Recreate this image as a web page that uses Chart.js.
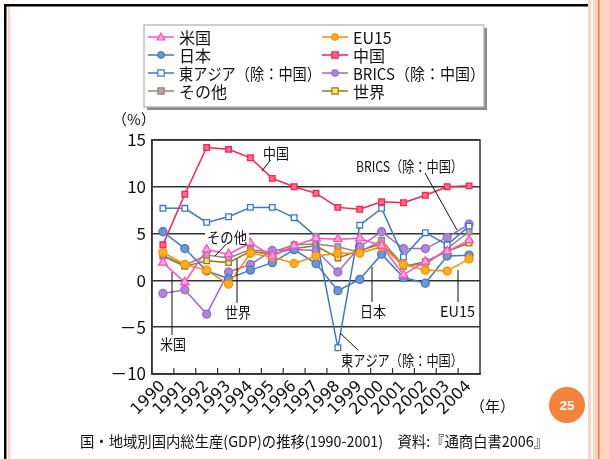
<!DOCTYPE html>
<html>
<head>
<meta charset="utf-8">
<script src="https://cdn.jsdelivr.net/npm/chart.js@4.4.1/dist/chart.umd.min.js"></script>
<style>
  html, body { margin: 0; padding: 0; background: #fff; }
  #wrap { width: 610px; height: 459px; position: relative; }
</style>
</head>
<body>
<div id="wrap"><canvas id="grafico" width="610" height="459"></canvas></div>
<script>
// anos e taxas de crescimento (%)
const anos = ['1990','1991','1992','1993','1994','1995','1996','1997','1998','1999','2000','2001','2002','2003','2004'];
const eua      = [1.9, -0.2, 3.3, 2.8, 4.0, 2.6, 3.7, 4.5, 4.4, 4.5, 3.7, 0.6, 2.0, 3.1, 4.3];
const eu15     = [3.0, 1.7, 1.1, -0.4, 2.9, 2.5, 1.8, 2.6, 2.9, 2.9, 3.6, 1.7, 1.1, 1.0, 2.3];
const japao    = [5.2, 3.4, 1.0, 0.2, 1.1, 1.9, 3.3, 1.8, -1.1, 0.1, 2.8, 0.3, -0.3, 2.6, 2.7];
const china    = [3.8, 9.2, 14.2, 14.0, 13.1, 10.9, 10.0, 9.3, 7.8, 7.6, 8.4, 8.3, 9.1, 10.0, 10.1];
const asiaLeste = [7.7, 7.7, 6.2, 6.8, 7.8, 7.8, 6.7, 4.7, -7.2, 5.9, 7.7, 2.5, 5.1, 3.8, 5.8];
const brics    = [-1.4, -1.0, -3.6, 0.9, 1.7, 3.2, 3.3, 3.2, 0.9, 3.6, 5.2, 3.4, 3.4, 4.6, 6.0];
const outros   = [2.7, 1.6, 2.7, 2.4, 3.3, 3.0, 3.8, 3.9, 3.6, 3.0, 4.3, 1.6, 1.7, 3.4, 5.2];
const mundo    = [2.6, 1.5, 2.1, 1.9, 3.1, 2.8, 3.4, 3.7, 2.4, 3.2, 3.9, 1.5, 2.0, 3.1, 4.0];

const yTicks = [-10, -5, 0, 5, 10, 15];

const FONTE = '"Noto Sans CJK JP", "Noto Sans", sans-serif';

function serie(nome, dados, cor, preenchimento, estilo) {
    return {
        label: nome,
        data: dados,
        borderColor: cor,
        backgroundColor: preenchimento,
        pointBorderColor: cor,
        pointBackgroundColor: preenchimento,
        pointStyle: estilo,
        pointRadius: estilo === 'triangle' ? 5 : 4,
        pointBorderWidth: 1.3,
        borderWidth: 1.5,
        tension: 0
    };
}

const datasets = [
    serie('米国', eua, '#ff4fc0', '#ffa8dc', 'triangle'),
    serie('EU15', eu15, '#ff8a00', '#ffb020', 'circle'),
    serie('日本', japao, '#3f78c4', '#6f95d4', 'circle'),
    serie('中国', china, '#ff1f4f', '#ff6f8a', 'rect'),
    serie('東アジア（除：中国）', asiaLeste, '#3a78c8', '#ffffff', 'rect'),
    serie('BRICS（除：中国）', brics, '#9a6ccc', '#a98ad6', 'circle'),
    serie('その他', outros, '#9a8080', '#b8a4a4', 'rect'),
    serie('世界', mundo, '#9a7a12', '#ffe27a', 'rect')
];

// moldura do slide, fundo e número da página
const moldura = {
    id: 'moldura',
    beforeDraw(chart) {
        const c = chart.ctx;
        c.save();
        c.fillStyle = '#fff';
        c.fillRect(0, 0, chart.width, chart.height);
        c.fillStyle = '#ffd3c4';
        c.fillRect(588, 0, 22, chart.height);
        c.fillStyle = '#fff';
        c.fillRect(591, 0, 2, chart.height);
        c.fillStyle = '#f47a3c';
        c.fillRect(598, 0, 1.5, chart.height);
        c.fillStyle = '#ffd3c4';
        c.fillRect(8, 6, 2, chart.height);
        c.fillStyle = '#000';
        c.fillRect(4, 4, 584, 2.5);
        c.fillRect(4, 4, 2.5, chart.height);
        c.restore();
    },
    afterDraw(chart) {
        const c = chart.ctx;
        c.save();
        c.fillStyle = '#f5823a';
        c.beginPath();
        c.arc(567, 405, 18, 0, Math.PI * 2);
        c.fill();
        c.fillStyle = '#fff';
        c.font = 'bold 13px "Liberation Sans", sans-serif';
        c.textAlign = 'center';
        c.textBaseline = 'middle';
        c.fillText('25', 567, 406);
        c.fillStyle = '#111';
        c.font = '15px ' + FONTE;
        c.textAlign = 'left';
        c.fillText('国・地域別国内総生産(GDP)の推移(1990-2001)　資料:『通商白書2006』', 80, 441, 468);
        c.fillText('（年）', 470, 406);
        c.fillText('（%）', 112, 119);
        c.restore();
    }
};

// caixa da área do gráfico e pequenos traços no eixo x
const caixa = {
    id: 'caixa',
    afterDraw(chart) {
        const a = chart.chartArea;
        const c = chart.ctx;
        const n = anos.length;
        c.save();
        c.strokeStyle = '#333';
        c.lineWidth = 1.5;
        c.strokeRect(a.left, a.top, a.right - a.left, a.bottom - a.top);
        c.lineWidth = 1.2;
        for (let i = 1; i < n; i++) {
            const x = a.left + i * (a.right - a.left) / n;
            c.beginPath();
            c.moveTo(x, a.bottom);
            c.lineTo(x, a.bottom - 6);
            c.stroke();
        }
        c.restore();
    }
};

// legenda em duas colunas com sombra
const legenda = {
    id: 'legenda',
    afterDraw(chart) {
        const c = chart.ctx;
        const bx = 144, by = 25, bw = 340, bh = 82;
        c.save();
        c.fillStyle = '#8a8a8a';
        c.fillRect(bx + 3, by + 3, bw, bh);
        c.fillStyle = '#fff';
        c.fillRect(bx, by, bw, bh);
        c.strokeStyle = '#b0b0b0';
        c.lineWidth = 1.2;
        c.strokeRect(bx, by, bw, bh);
        c.font = '16px ' + FONTE;
        c.textBaseline = 'middle';
        chart.data.datasets.forEach((ds, i) => {
            const col = i % 2, row = Math.floor(i / 2);
            const x0 = col === 0 ? 148 : 322;
            const y = 37 + row * 18;
            c.strokeStyle = ds.borderColor;
            c.lineWidth = 1.5;
            c.beginPath();
            c.moveTo(x0, y);
            c.lineTo(x0 + 26, y);
            c.stroke();
            c.fillStyle = ds.pointBackgroundColor;
            c.lineWidth = 1.2;
            const mx = x0 + 13;
            c.beginPath();
            if (ds.pointStyle === 'circle') {
                c.arc(mx, y, 3.2, 0, Math.PI * 2);
            } else if (ds.pointStyle === 'triangle') {
                c.moveTo(mx, y - 4);
                c.lineTo(mx + 4, y + 3);
                c.lineTo(mx - 4, y + 3);
                c.closePath();
            } else {
                c.rect(mx - 3.2, y - 3.2, 6.4, 6.4);
            }
            c.fill();
            c.stroke();
            c.fillStyle = '#111';
            c.fillText(ds.label, x0 + 31, y + 1, col === 0 ? 142 : 132);
        });
        c.restore();
    }
};

// rótulos das séries com linhas de chamada
const chamadas = [
    { texto: '中国', x: 263, y: 152, w: 26, linha: [272, 158, 262, 171] },
    { texto: 'BRICS（除：中国）', x: 356, y: 165, w: 107, linha: [425, 173, 457, 230] },
    { texto: 'その他', x: 207, y: 236, w: 40, linha: [231, 239, 215, 256] },
    { texto: '世界', x: 225, y: 311, w: 26, linha: [237, 259, 237, 303] },
    { texto: '米国', x: 160, y: 343, w: 26, linha: [172, 272, 172, 337] },
    { texto: '日本', x: 360, y: 310, w: 26, linha: [372, 267, 372, 302] },
    { texto: 'EU15', x: 440, y: 310, w: 35, linha: [458, 270, 458, 302] },
    { texto: '東アジア（除：中国）', x: 341, y: 359, w: 122, linha: [340, 333, 358, 350] }
];

const rotulos = {
    id: 'rotulos',
    afterDatasetsDraw(chart) {
        const c = chart.ctx;
        c.save();
        c.font = '15px ' + FONTE;
        c.textBaseline = 'middle';
        chamadas.forEach(r => {
            c.strokeStyle = '#111';
            c.lineWidth = 1;
            c.beginPath();
            c.moveTo(r.linha[0], r.linha[1]);
            c.lineTo(r.linha[2], r.linha[3]);
            c.stroke();
            const w = Math.min(c.measureText(r.texto).width, r.w);
            c.fillStyle = '#fff';
            c.fillRect(r.x - 2, r.y - 8, w + 4, 16);
            c.fillStyle = '#111';
            c.fillText(r.texto, r.x, r.y + 1, r.w);
        });
        c.restore();
    }
};

const ctx = document.getElementById('grafico').getContext('2d');
const grafico = new Chart(ctx, {
    type: 'line',
    data: { labels: anos, datasets: datasets },
    options: {
        responsive: false,
        animation: false,
        layout: { padding: { top: 140, right: 130, left: 0, bottom: 0 } },
        plugins: { legend: { display: false }, tooltip: { enabled: false } },
        scales: {
            x: {
                offset: true,
                grid: { display: true, drawOnChartArea: false, drawTicks: false },
                border: { display: true, color: '#333', width: 1.5 },
                ticks: {
                    color: '#111',
                    font: { family: '"DejaVu Sans", sans-serif', size: 16 },
                    maxRotation: 45,
                    minRotation: 45,
                    padding: 3,
                    autoSkip: false
                },
                afterFit(scale) { scale.height = 85; }
            },
            y: {
                min: -10,
                max: 15,
                afterBuildTicks(scale) { scale.ticks = yTicks.map(v => ({ value: v })); },
                grid: { color: '#333', lineWidth: 1.5, drawTicks: false },
                border: { display: true, color: '#333', width: 1.5 },
                ticks: {
                    color: '#111',
                    font: { family: FONTE, size: 17 },
                    padding: 6,
                    callback: v => v < 0 ? '－' + Math.abs(v) : String(v)
                },
                afterFit(scale) { scale.width = 152; }
            }
        }
    },
    plugins: [moldura, caixa, legenda, rotulos]
});
</script>
</body>
</html>
